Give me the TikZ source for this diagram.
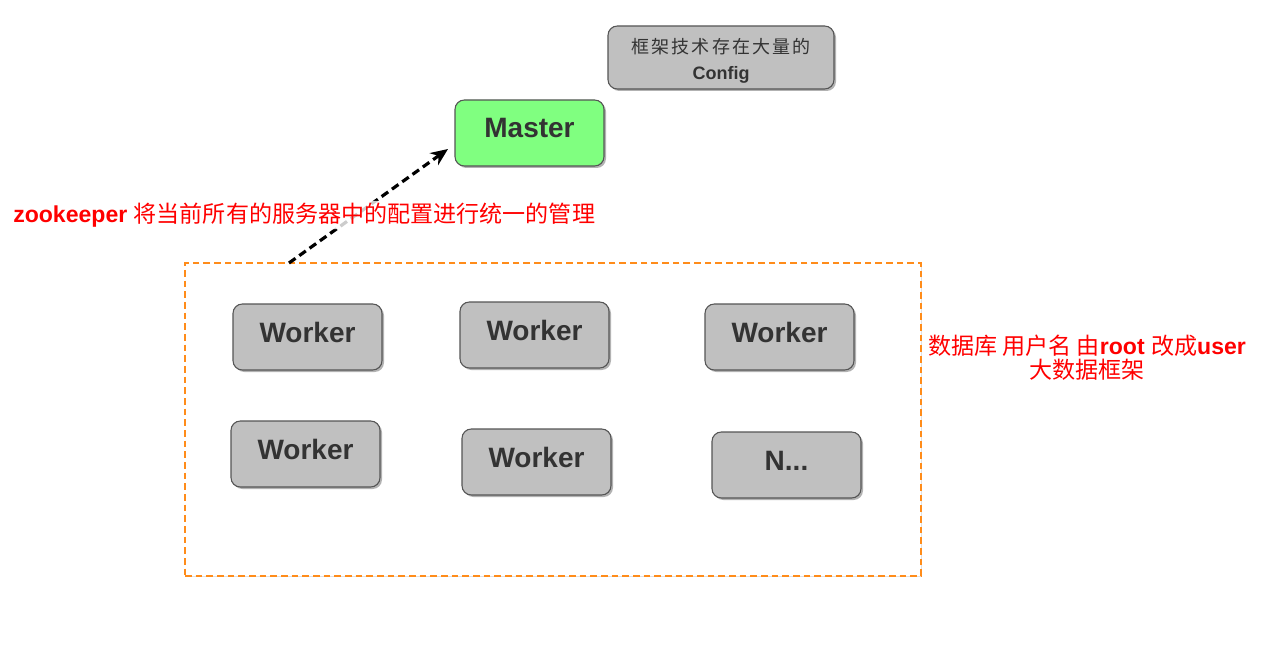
\documentclass[tikz,border=0pt]{standalone}
\usepackage{fontspec}
\setmainfont{Liberation Sans}
\newfontfamily\cjk{Noto Sans CJK SC}
\usetikzlibrary{shadows,arrows.meta}
\definecolor{boxgray}{HTML}{C0C0C0}
\definecolor{boxedge}{HTML}{555555}
\definecolor{txtgray}{HTML}{333333}
\definecolor{mgreen}{HTML}{80FF80}
\definecolor{dorange}{HTML}{FF8C1A}
\tikzset{
  px/.style={x=0.75pt,y=-0.75pt},
  card/.style={draw=boxedge, line width=0.8pt, fill=boxgray, rounded corners=7pt,
    minimum width=111.75pt, minimum height=49.5pt, inner sep=0pt,
    drop shadow={shadow xshift=1.5pt, shadow yshift=-1.5pt, fill=black!60, opacity=0.5},
    text=txtgray, font=\bfseries\fontsize{21}{24}\selectfont},
  redlbl/.style={text=red, font=\fontsize{17.3}{19}\selectfont, inner sep=1.5pt}
}
\begin{document}
\begin{tikzpicture}[px]
\useasboundingbox[fill=white] (0,0) rectangle (1263,645);
% dashed frame
\node (frame) [draw=dorange, line width=1.4pt, dash pattern=on 5pt off 3pt, minimum width=552pt, minimum height=234.75pt,
  drop shadow={shadow xshift=1pt, shadow yshift=-1pt, fill=black!30, opacity=0.4}, fill=white]
  at (553,419.5) {};
% config
\node (config) [card, minimum width=169.5pt, minimum height=47.25pt, align=center,
  font=\fontsize{13.5}{19}\selectfont] at (721,57.5)
  {\raisebox{-2.6pt}[\height][\depth]{\parbox{160pt}{\centering{\cjk\addfontfeatures{LetterSpace=12}框架技术存在大量的}\\{\bfseries Config}}}};
% master
\node (master) [card, fill=mgreen] at (529.5,133) {\raisebox{7.5pt}{Master}};
% workers
\node (w1) [card] at (307.5,337) {\raisebox{7.5pt}{Worker}};
\node (w2) [card] at (534.5,335) {\raisebox{7.5pt}{Worker}};
\node (w3) [card] at (779.5,337) {\raisebox{7.5pt}{Worker}};
\node (w4) [card] at (305.5,454) {\raisebox{7.5pt}{Worker}};
\node (w5) [card] at (536.5,462) {\raisebox{7.5pt}{Worker}};
\node (wn) [card] at (786.5,465) {\raisebox{6pt}{N...}};
% arrow
\coordinate (astart) at (289,263);
\coordinate (aend) at (448,149);
\draw[black, line width=2.4pt, dash pattern=on 6pt off 3.5pt, -{Stealth[length=13pt,width=11pt]}] (astart) -- (aend);
% labels
\node (zk) [redlbl, fill=white, fill opacity=0.8, text opacity=1, anchor=west, rounded corners=4pt] at (11,215)
  {{\bfseries zookeeper} {\cjk 将当前所有的服务器中的配置进行统一的管理}};
\node (db) [redlbl, align=center, anchor=north, font=\fontsize{17.3}{19}\selectfont] at (1087,333)
  {{\cjk 数据库 用户名 由}{\bfseries root} {\cjk 改成}{\bfseries user}\\[-1pt]{\cjk 大数据框架}};
\end{tikzpicture}
\end{document}
